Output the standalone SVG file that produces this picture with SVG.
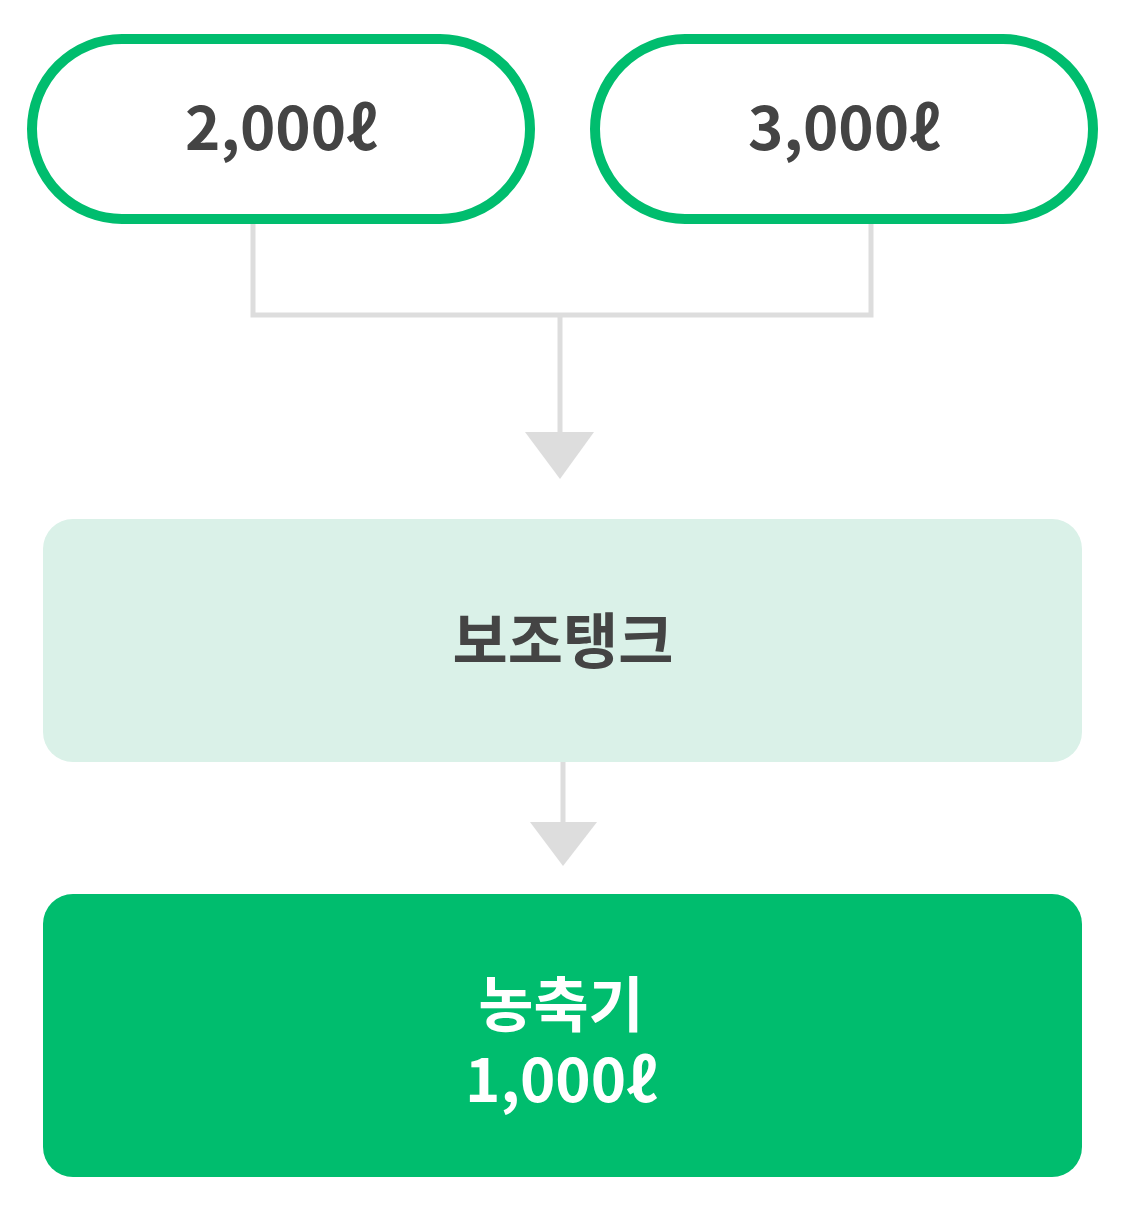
<svg xmlns="http://www.w3.org/2000/svg" width="1125" height="1212" viewBox="0 0 1125 1212">
<style>
.pill{fill:#fff;stroke:#00bd6e;stroke-width:10}
.t{font-family:"Noto Sans CJK KR","Noto Sans",sans-serif;font-weight:700;font-size:60px;text-anchor:middle}
.dark{fill:#444}
.white{fill:#fff}
.conn{fill:none;stroke:#dddddd;stroke-width:5}
.head{fill:#dddddd}
</style>
<rect width="1125" height="1212" fill="#fff"/>
<g id="connectors">
<path class="conn" d="M253 224 V315 H871 V224"/>
<path class="conn" d="M560 315 V436"/>
<polygon class="head" points="525,432 594,432 560,479"/>
<path class="conn" d="M563 762 V826"/>
<polygon class="head" points="530,822 597,822 563,866"/>
</g>
<g id="node-2000">
<rect class="pill" x="32" y="39" width="498" height="180" rx="90"/>
<text class="t dark" x="281" y="150">2,000ℓ</text>
</g>
<g id="node-3000">
<rect class="pill" x="595" y="39" width="498" height="180" rx="90"/>
<text class="t dark" x="844" y="150">3,000ℓ</text>
</g>
<g id="node-subtank">
<rect x="43" y="519" width="1039" height="243" rx="30" fill="#daf1e8"/>
<text class="t dark" x="563" y="663">보조탱크</text>
</g>
<g id="node-concentrator">
<rect x="43" y="894" width="1039" height="283" rx="30" fill="#00bd6e"/>
<text class="t white" x="561" y="1027">농축기</text>
<text class="t white" x="561" y="1102">1,000ℓ</text>
</g>
</svg>
